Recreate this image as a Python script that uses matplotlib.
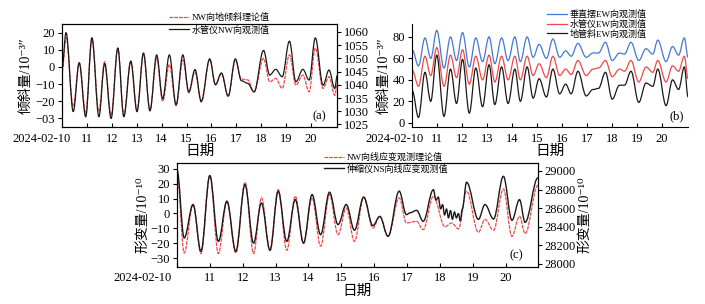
#!/usr/bin/env python

import numpy as np
import matplotlib
matplotlib.use('Agg')

from matplotlib import pyplot as plt
from matplotlib import transforms
from matplotlib.path import Path
from matplotlib.patches import PathPatch
from matplotlib.lines import Line2D

plt.rcParams['font.family'] = ['Liberation Serif', 'Noto Sans CJK SC', 'DejaVu Serif']

# days of February 2024 (day number as float)
day_ticks = list(range(10, 21))
day_labels = ['2024-02-10'] + [str(d) for d in range(11, 21)]

# (a) NW tilt: theory vs water-tube observation (turning points)
t_a = [10.0, 10.16, 10.45, 10.69, 10.95, 11.20, 11.48, 11.71, 11.97, 12.24,
       12.48, 12.76, 13.01, 13.27, 13.53, 13.80, 14.04, 14.31, 14.58, 14.85,
       15.09, 15.34, 15.59, 15.93, 16.16, 16.40, 16.67, 16.96, 17.20, 17.45,
       17.71, 18.09, 18.34, 18.58, 18.84, 19.13, 19.39, 19.67, 19.92, 20.17,
       20.48, 20.72, 20.95, 21.05]
nw_theory = [-3, 17, -23, 2.4, -27, 16, -26, 3, -28, 11,
             -28, 3.5, -25, 8, -25, 5, -20, 1.4, -22.5, 4,
             -15, -3, -20.5, 4.3, -10, -4, -17, 4, -7, -7.5,
             -14.5, 5, -8.6, -6.7, -12.5, 7, -10.6, -4.7, -14.5, 11,
             -12.5, -5.7, -16.5, -10]
nw_water = [-1, 20, -26, 2.4, -29, 17, -29, 2, -30, 11,
            -29, 3.3, -26, 8, -25.5, 7, -18.5, 7, -22, 7,
            -14.5, -1.5, -20, 4.7, -10.4, -3.5, -17, 4.7, -8, -9.5,
            -14.5, 9.6, -4.7, -1.4, -5.7, 15, -8.6, -1.4, -7.6, 16.9,
            -10.6, -1.8, -12.5, -5]

# (b) EW tilt observations
t_b = [10.02, 10.27, 10.53, 10.76, 11.0, 11.29, 11.55, 11.79, 12.03, 12.30,
       12.56, 12.83, 13.09, 13.32, 13.59, 13.85, 14.12, 14.34, 14.61, 14.85,
       15.09, 15.38, 15.64, 15.91, 16.15, 16.37, 16.64, 16.97, 17.24, 17.46,
       17.74, 18.01, 18.30, 18.50, 18.76, 19.07, 19.36, 19.63, 19.83, 20.16,
       20.42, 20.66, 20.89, 21.04]
ew_pendulum = [68, 53, 79, 60, 86, 51, 80, 58, 84, 52,
               79, 57, 80, 55, 79, 58, 80, 57, 80, 61,
               73, 60, 78, 61, 67, 62, 74, 61, 65, 65,
               75, 58, 65, 64, 75, 58, 69, 64, 77, 57,
               71, 63, 79, 61]
ew_water = [49, 34, 62, 44, 70, 34, 63, 42, 68, 36,
            62, 40, 63, 38, 62, 40, 62, 40, 62, 44,
            55, 42, 62, 44, 50, 45, 58, 44, 50, 51,
            58, 43, 50, 48, 58, 38, 52, 47, 58, 38,
            53, 48, 62, 41]
ew_ground = [30, 5, 47, 20, 63, 6, 50, 18, 59, 9,
             51, 15, 54, 17, 52, 18, 50, 20, 52, 23,
             41, 24, 50, 27, 36, 27, 48, 25, 31, 32,
             47, 22, 35, 35, 48, 19, 37, 34, 50, 16,
             40, 31, 52, 24]

# (c) NW line strain: theory vs extensometer NS
t_c_theory = [10.0, 10.22, 10.49, 10.73, 11.0, 11.26, 11.52, 11.79, 12.07, 12.33,
              12.57, 12.83, 13.08, 13.34, 13.60, 13.85, 14.11, 14.37, 14.64, 14.90,
              15.15, 15.40, 15.68, 15.96, 16.17, 16.42, 16.76, 16.98, 17.29, 17.49,
              17.80, 18.15, 18.36, 18.56, 18.81, 19.17, 19.37, 19.63, 19.93, 20.19,
              20.42, 20.59, 20.98]
strain_theory = [28, -26.6, 6, -27, 25.5, -27, 8.2, -26.6, 21, -27,
                 10.5, -24.8, 16, -24.8, 11.6, -20, 10.5, -22, 12.7, -14.3,
                 3.7, -18.8, 11, -9.8, -2, -15.4, 10.5, -6.4, -5.3, -10.9,
                 11.6, -9, -6.4, -10.4, 15, -12.7, -4, -11.3, 16.5, -15.4,
                 -1.9, -13.6, 19]
t_c_obs = [10.0, 10.22, 10.49, 10.73, 11.0, 11.26, 11.52, 11.79, 12.07, 12.33,
           12.57, 12.83, 13.08, 13.34, 13.60, 13.85, 14.11, 14.37, 14.64, 14.90,
           15.15, 15.40, 15.68, 15.96, 16.17, 16.42, 16.76, 16.98, 17.10, 17.29,
           17.49, 17.80, 17.88, 17.95, 18.02, 18.08, 18.14, 18.20, 18.26, 18.32,
           18.38, 18.44, 18.50, 18.56, 18.62, 18.68, 18.81, 19.17, 19.37, 19.63,
           19.93, 20.19, 20.42, 20.59, 20.98]
strain_obs = [29.5, -16.5, 6, -25.5, 25.5, -18.8, 8.2, -25.5, 19.4, -20,
              7, -24.8, 15, -18.8, 9.3, -20, 12.7, -14.3, 14.3, -7.5,
              6, -11.3, 11, -8.2, -2, -15.4, 15, -0.8, 0.5, 2.1,
              -5.3, 16, 9, 11, 3, 6, -1, 3, -3, 2,
              -4, 1, -3, 0, -5, 3, 21, -4, 6, -3.7,
              25, -4.6, 9.3, -6, 24]

RED = '#f04848'
BLACK = '#1a1a1a'
BLUE = '#4478d8'
TICK_FS = 9
LEG_FS = 6.5
DASH = (0, (3, 0.8))
YLAB_TILT = '倾斜量/10⁻³″'
YLAB_STRAIN = '形变量/10⁻¹⁰'


def smooth_line(ax, t, v, color, lw=0.9, ls='-', label=None):
    # curve through the turning points, flat at each point (bezier path)
    verts = [(t[0], v[0])]
    codes = [Path.MOVETO]
    for i in range(len(t) - 1):
        dt = t[i + 1] - t[i]
        verts += [(t[i] + 0.36 * dt, v[i]), (t[i + 1] - 0.36 * dt, v[i + 1]),
                  (t[i + 1], v[i + 1])]
        codes += [Path.CURVE4] * 3
    ax.add_patch(PathPatch(Path(verts, codes), fill=False, edgecolor=color,
                           lw=lw, ls=ls, clip_on=True))
    return Line2D([], [], color=color, lw=lw, ls=ls, label=label)


def setup_xaxis(ax, shift_px):
    ax.set_xlim(10, 21.04)
    ax.set_xticks(day_ticks)
    ax.set_xticklabels(day_labels, fontsize=TICK_FS)
    ax.tick_params(axis='x', direction='in', length=3, pad=4)
    ax.tick_params(axis='y', direction='out', length=3, labelsize=TICK_FS, pad=2)
    lab = ax.get_xticklabels()[0]
    lab.set_transform(lab.get_transform() +
                      transforms.ScaledTranslation(shift_px / 100.0, 0,
                                                   ax.figure.dpi_scale_trans))
    ax.set_xlabel('日期', fontsize=10.5, labelpad=0)


fig = plt.figure(figsize=(7.05, 3.04), dpi=100)

# ---- (a)
ax_a = fig.add_axes([0.088, 0.582, 0.390, 0.339])
h1 = smooth_line(ax_a, t_a, nw_theory, RED, ls=DASH, label='NW向地倾斜理论值')
h2 = smooth_line(ax_a, t_a, nw_water, BLACK, label='水管仪NW向观测值')
ax_a.set_ylim(-35, 25)
ax_a.set_yticks([20, 10, 0, -10, -20, -30])
ax_a.set_yticklabels(['20', '10', '0', '\u221210', '\u221220', '\u221203'])
setup_xaxis(ax_a, -20)
ax_a.set_ylabel(YLAB_TILT, fontsize=10, labelpad=2)
ax_a.text(0.935, 0.10, '(a)', transform=ax_a.transAxes, ha='center', va='center', fontsize=9)
ax_a2 = ax_a.twinx()
ax_a2.set_ylim(1024, 1063)
ax_a2.set_yticks(np.arange(1025, 1061, 5))
ax_a2.tick_params(axis='y', direction='out', length=3, labelsize=TICK_FS, pad=2)
ax_a.legend(handles=[h1, h2], loc='upper left', bbox_to_anchor=(0.232, 0.975),
            bbox_transform=fig.transFigure, frameon=False, fontsize=LEG_FS,
            handlelength=2.2, handletextpad=0.3, labelspacing=0.35, borderpad=0.1)

# ---- (b)
ax_b = fig.add_axes([0.584, 0.582, 0.392, 0.339])
hb1 = smooth_line(ax_b, t_b, ew_pendulum, BLUE, label='垂直摆EW向观测值')
hb2 = smooth_line(ax_b, t_b, ew_water, RED, label='水管仪EW向观测值')
hb3 = smooth_line(ax_b, t_b, ew_ground, BLACK, label='地管斜EW向观测值')
ax_b.set_ylim(-4, 92)
ax_b.set_yticks([0, 20, 40, 60, 80])
setup_xaxis(ax_b, -17)
ax_b.set_ylabel(YLAB_TILT, fontsize=10, labelpad=1)
ax_b.spines['top'].set_visible(False)
ax_b.spines['right'].set_visible(False)
ax_b.text(0.96, 0.10, '(b)', transform=ax_b.transAxes, ha='center', va='center', fontsize=9)
ax_b.legend(handles=[hb1, hb2, hb3], loc='upper left', bbox_to_anchor=(0.768, 0.985),
            bbox_transform=fig.transFigure, frameon=False, fontsize=LEG_FS,
            handlelength=2.2, handletextpad=0.3, labelspacing=0.05, borderpad=0.1)

# ---- (c)
ax_c = fig.add_axes([0.251, 0.122, 0.512, 0.342])
hc1 = smooth_line(ax_c, t_c_theory, strain_theory, RED, ls=DASH,
                  label='NW向线应变观测理论值')
hc2 = smooth_line(ax_c, t_c_obs, strain_obs, BLACK, lw=1.0, label='伸缩仪NS向线应变观测值')
ax_c.set_ylim(-36, 34)
ax_c.set_yticks([30, 20, 10, 0, -10, -20, -30])
setup_xaxis(ax_c, -34)
ax_c.set_xlim(10, 20.98)
ax_c.set_ylabel(YLAB_STRAIN, fontsize=10, labelpad=1)
ax_c.text(0.94, 0.115, '(c)', transform=ax_c.transAxes, ha='center', va='center', fontsize=9)
ax_c2 = ax_c.twinx()
ax_c2.set_ylim(27968, 29086)
ax_c2.set_yticks(np.arange(28000, 29001, 200))
ax_c2.tick_params(axis='y', direction='out', length=3, labelsize=TICK_FS, pad=2)
ax_c2.set_ylabel(YLAB_STRAIN, fontsize=10, labelpad=2)
ax_c.legend(handles=[hc1, hc2], loc='upper left', bbox_to_anchor=(0.452, 0.515),
            bbox_transform=fig.transFigure, frameon=False, fontsize=LEG_FS,
            handlelength=2.2, handletextpad=0.3, labelspacing=0.25, borderpad=0.1)

plt.savefig('out.png', dpi=100)
